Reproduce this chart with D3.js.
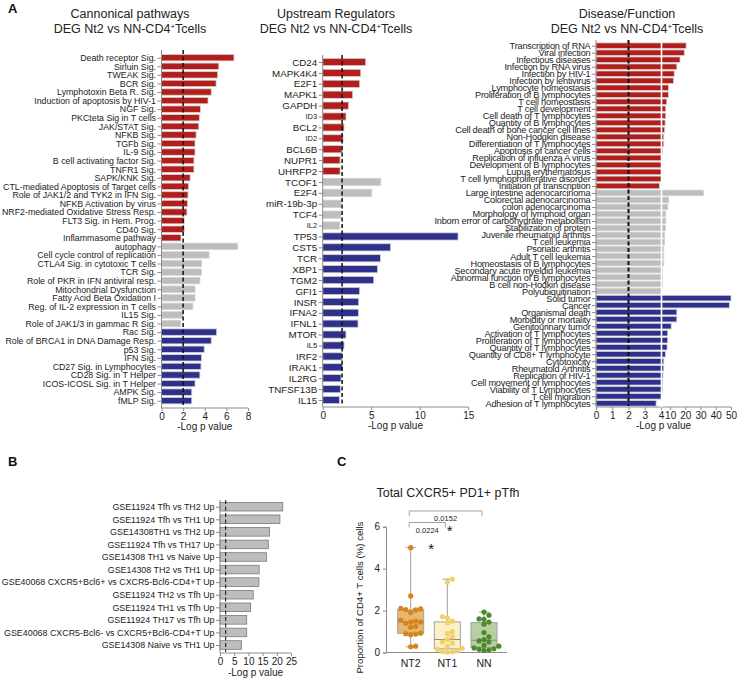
<!DOCTYPE html>
<html>
<head>
<meta charset="utf-8">
<script src="https://cdn.jsdelivr.net/npm/d3@7"></script>
<style>
body{margin:0;background:#fff}
svg{display:block;font-family:"Liberation Sans",Arial,sans-serif}
</style>
</head>
<body>
<script>
// ---- panel A, cannonical pathways
const cpUp = ["Death receptor Sig.","Sirluin Sig.","TWEAK Sig.","BCR Sig.","Lymphotoxin Beta R. Sig.","Induction of apoptosis by HIV-1","NGF Sig.","PKCteta Sig in T cells","JAK/STAT Sig.","NFKB Sig.","TGFb Sig.","IL-9 Sig.","B cell activating factor Sig.","TNFR1 Sig.","SAPK/KNK Sig.","CTL-mediated Apoptosis of Target cells","Role of JAK1/2 and TYK2 in IFN Sig.","NFKB Activation by virus","NRF2-mediated Oxidative Stress Resp.","FLT3 Sig. in Hem. Prog.","CD40 Sig.","Inflammasome pathway"];
const cpUpVals = [6.7,5.3,5.2,5.05,4.6,4.3,3.6,3.5,3.45,3.2,3.1,3.1,3.0,3.0,2.65,2.5,2.45,2.4,2.35,2.1,2.1,1.8];
const cpMid = ["autophagy","Cell cycle control of replication","CTLA4 Sig. in cytotoxic T cells","TCR Sig.","Role of PKR in IFN antiviral resp.","Mitochondrial Dysfunction","Fatty Acid Beta Oxidation I","Reg. of IL-2 expression in T cells","IL15 Sig.","Role of JAK1/3 in gammac R Sig."];
const cpMidVals = [7.05,4.4,3.7,3.7,3.55,3.1,3.1,2.9,2.0,1.75];
const cpDown = ["Rac Sig.","Role of BRCA1 in DNA Damage Resp.","p53 Sig.","IFN Sig.","CD27 Sig. in Lymphocytes","CD28 Sig. in T Helper","ICOS-ICOSL Sig. in T Helper","AMPK Sig.","fMLP Sig."];
const cpDownVals = [5.1,4.6,3.95,3.7,3.65,3.55,3.1,2.8,2.8];
const cpTicks = [0,2,4,6,8];

// ---- panel A, upstream regulators
const urUp = ["CD24","MAPK4K4","E2F1","MAPK1","GAPDH","ID3","BCL2","ID2","BCL6B","NUPR1","UHRFP2"];
const urUpVals = [4.43,3.92,3.81,3.09,2.65,2.4,2.2,2.1,2.0,1.79,1.79];
const urMid = ["TCOF1","E2F4","miR-19b-3p","TCF4","IL2"];
const urMidVals = [5.98,5.05,1.92,1.89,1.75];
const urDown = ["TP53","CST5","TCR","XBP1","TGM2","GFI1","INSR","IFNA2","IFNL1","MTOR","IL5","IRF2","IRAK1","IL2RG","TNFSF13B","IL15"];
const urDownVals = [13.95,7.0,5.95,5.64,5.26,3.81,3.71,3.68,3.64,2.4,2.2,2.0,2.03,1.89,1.82,1.72];
const urSmall = ["ID3","ID2","IL2","IL5"];
const urTicks = [0,5,10,15];

// ---- panel A, disease / function
const dfUp = ["Transcription of RNA","Viral infection","Infectious diseases","Infection by RNA virus","Infection by HIV-1","Infection by lentivirus","Lymphocyte homeostasis","Proliferation of B lymphocytes","T cell homeostasis","T cell development","Cell death of T lymphocytes","Quantity of B lymphocytes","Cell death of bone cancer cell lines","Non-Hodgkin disease","Differentiation of T lymphocytes","Apoptosis of cancer cells","Replication of influenza A virus","Development of B lymphocytes","Lupus erythematosus","T cell lymphoproliferative disorder","Initiation of transcription"];
const dfUpVals = [20.5,19.3,16.5,14.4,12.7,12.2,8.9,8.9,7.8,7.1,7.1,6.7,6.4,5.8,5.8,5.1,4.5,4.5,4.4,4.5,3.9];
const dfMid = ["Large intestine adenocarcinoma","Colorectal adenocarcinoma","colon adenocarcinoma","Morphology of lymphoid organ","Inborn error of carbohydrate metabolism","Stabilization of protein","Juvenile rheumatoid arthritis","T cell leukemia","Psoriatic arthritis","Adult T cell leukemia","Homeostasis of B lymphocytes","Secondary acute myeldid leukemia","Abnormal function of B lymphocytes","B cell non-Hodkin disease","Polyubiquitination"];
const dfMidVals = [31.8,9.1,8.4,7.1,7.1,6.9,6.4,6.4,5.8,5.8,5.8,5.1,5.1,5.1,4.5];
const dfDown = ["Solid tumor","Cancer","Organismal death","Morbidity or mortality","Genitourinary tumor","Activation of T lymphocytes","Proliferation of T lymphocytes","Quantity of T lymphocytes","Quantity of CD8+ T lymphocyte","Cytotoxicity","Rheumatoid Arthritis","Replication of HIV-1","Cell movement of lymphocytes","Viability of T Lymphocytes","T cell migration","Adhesion of T lymphocytes"];
const dfDownVals = [50,48.9,14.4,14.4,10.7,8.4,8.4,8.0,6.9,5.8,5.8,5.3,5.1,5.1,4.5,3.7];
const dfTicks = [0,1,2,3,4,10,20,30,40,50];

// ---- panel B
const gseLabels = ["GSE11924 Tfh vs TH2 Up","GSE11924 Tfh vs TH1 Up","GSE14308TH1 vs TH2 Up","GSE11924 Tfh vs TH17 Up","GSE14308 TH1 vs Naive Up","GSE14308 TH2 vs TH1 Up","GSE40068 CXCR5+Bcl6+ vs CXCR5-Bcl6-CD4+T Up","GSE11924 TH2 vs Tfh Up","GSE11924 TH1 vs Tfh Up","GSE11924 TH17 vs Tfh Up","GSE40068 CXCR5-Bcl6- vs CXCR5+Bcl6-CD4+T Up","GSE14308 Naive vs TH1 Up"];
const gseVals = [22.1,21.1,17.4,17.0,16.4,13.8,13.7,11.7,10.8,9.4,9.4,7.6];
const gseTicks = [0,5,10,15,20,25];

// ---- panel C
const groupsC = ["NT2","NT1","NN"];
const nt2 = [0.27,0.3,0.85,0.88,0.9,0.92,1.2,1.25,1.4,1.45,1.45,1.5,1.55,1.9,2.03,2.05,2.08,2.1,2.7,5.0];
const nt1 = [0.02,0.03,0.05,0.08,0.15,0.2,0.3,0.45,0.5,0.62,0.75,0.9,1.0,1.42,1.5,1.65,1.7,3.35,3.5];
const nn = [0.1,0.12,0.15,0.18,0.22,0.3,0.35,0.5,0.55,0.62,0.75,0.95,1.35,1.45,1.58,1.6,1.78,1.93];
const cTicks = [0,2,4,6];
const pvals = [["NT2","NN","0.0152"],["NT2","NT1","0.0224"]];

const RED = "#b31e1c", GREY = "#bdbdbd", BLUE = "#2f308c";
const AX = "#8c8c8c", TXT = "#222";

const svg = d3.select("body").append("svg").attr("width", 737).attr("height", 684);

function barPanel(o) {
  const g = svg.append("g");
  const rows = [];
  o.groups.forEach(gr => gr.labels.forEach((l, i) => rows.push({label: l, value: gr.values[i], color: gr.color})));
  const y = d3.scalePoint().domain(rows.map(d => d.label)).range(o.yRange);
  const x = o.x;
  const x0 = x(0);

  g.selectAll("rect").data(rows).join("rect")
    .attr("x", x0).attr("y", d => y(d.label) - o.barH / 2)
    .attr("width", d => x(d.value) - x0).attr("height", o.barH)
    .attr("fill", d => d.color).attr("stroke", o.stroke).attr("stroke-width", 0.8);

  if (o.breakAt != null) {
    g.append("line").attr("x1", x(o.breakAt) + 0.5).attr("x2", x(o.breakAt) + 0.5)
      .attr("y1", o.axisTop).attr("y2", o.axisBottom)
      .attr("stroke", "#fff").attr("stroke-width", 1.6);
  }

  g.append("line").attr("x1", x(o.dash)).attr("x2", x(o.dash))
    .attr("y1", o.axisTop).attr("y2", o.axisBottom - 1)
    .attr("stroke", "#111").attr("stroke-width", o.dashW || 1.5).attr("stroke-dasharray", "4,2.5");

  const ya = g.append("g").attr("transform", `translate(${x0},0)`)
    .call(d3.axisLeft(y).tickSize(o.tick).tickPadding(1.5));
  ya.select(".domain").remove();
  ya.selectAll(".tick line").attr("stroke", AX);
  ya.selectAll(".tick text").attr("fill", TXT)
    .style("font-size", d => (o.small && o.small.includes(d)) ? o.smallSize + "px" : o.fontSize + "px")
    .style("letter-spacing", o.spacing || "0px");
  g.append("line").attr("x1", x0).attr("x2", x0).attr("y1", o.axisTop).attr("y2", o.axisBottom)
    .attr("stroke", AX);

  const xa = g.append("g").attr("transform", `translate(0,${o.axisBottom})`)
    .call(d3.axisBottom(x).tickValues(o.ticks).tickSize(3).tickPadding(2));
  xa.select(".domain").remove();
  xa.selectAll(".tick line").attr("stroke", AX);
  xa.selectAll(".tick text").attr("fill", TXT).style("font-size", o.tickFont + "px");
  const xMax = x(o.ticks[o.ticks.length - 1]);
  if (o.breakAt != null) {
    g.append("line").attr("x1", x0).attr("x2", x(o.breakAt) - 0.5).attr("y1", o.axisBottom).attr("y2", o.axisBottom).attr("stroke", AX);
    g.append("line").attr("x1", x(o.breakAt) + 1.5).attr("x2", xMax).attr("y1", o.axisBottom).attr("y2", o.axisBottom).attr("stroke", AX);
  } else {
    g.append("line").attr("x1", x0).attr("x2", xMax).attr("y1", o.axisBottom).attr("y2", o.axisBottom).attr("stroke", AX);
  }
  g.append("text").attr("x", (x0 + xMax) / 2).attr("y", o.axisBottom + o.titleGap)
    .attr("text-anchor", "middle").attr("fill", TXT).style("font-size", o.tickFont + "px")
    .text("-Log p value");

  if (o.title) {
    const t = g.append("text").attr("text-anchor", "middle").attr("fill", TXT).style("font-size", "12.5px");
    t.append("tspan").attr("x", o.titleX).attr("y", 18).text(o.title);
    const t2 = g.append("text").attr("text-anchor", "middle").attr("fill", TXT).style("font-size", "12.5px")
      .attr("x", o.titleX).attr("y", 33);
    t2.append("tspan").text("DEG Nt2 vs NN-CD4");
    t2.append("tspan").attr("dy", -4).style("font-size", "8px").text("+");
    t2.append("tspan").attr("dy", 4).text("Tcells");
  }
}

barPanel({
  groups: [{labels: cpUp, values: cpUpVals, color: RED}, {labels: cpMid, values: cpMidVals, color: GREY}, {labels: cpDown, values: cpDownVals, color: BLUE}],
  x: d3.scaleLinear().domain([0, 8]).range([161.5, 248]),
  yRange: [57.7, 400.7], barH: 6.4, axisTop: 50, axisBottom: 408, tick: 4,
  ticks: cpTicks, dash: 2, stroke: "#d2d2d2", fontSize: 8.8, tickFont: 10, titleGap: 22,
  title: "Cannonical pathways", titleX: 130
});

barPanel({
  groups: [{labels: urUp, values: urUpVals, color: RED}, {labels: urMid, values: urMidVals, color: GREY}, {labels: urDown, values: urDownVals, color: BLUE}],
  x: d3.scaleLinear().domain([0, 15]).range([322.7, 468.2]),
  yRange: [62, 400], barH: 7.2, axisTop: 55, axisBottom: 407, tick: 4,
  ticks: urTicks, dash: 2, stroke: "#cfcfcf", fontSize: 9.8, small: urSmall, smallSize: 7.5, tickFont: 10, titleGap: 22,
  title: "Upstream Regulators", titleX: 336
});

barPanel({
  groups: [{labels: dfUp, values: dfUpVals, color: RED}, {labels: dfMid, values: dfMidVals, color: GREY}, {labels: dfDown, values: dfDownVals, color: BLUE}],
  x: d3.scaleLinear().domain([0, 4, 50]).range([596, 661, 731]),
  yRange: [45.7, 403.3], barH: 5.6, axisTop: 40, axisBottom: 407, tick: 4,
  ticks: dfTicks, dash: 2, dashW: 2, stroke: "#d2d2d2", fontSize: 9.2, spacing: "-0.2px", tickFont: 10, titleGap: 22, breakAt: 4,
  title: "Disease/Function", titleX: 627
});

barPanel({
  groups: [{labels: gseLabels, values: gseVals, color: GREY}],
  x: d3.scaleLinear().domain([0, 25]).range([220, 291]),
  yRange: [506.7, 645], barH: 8.6, axisTop: 500, axisBottom: 653, tick: 4,
  ticks: gseTicks, dash: 2, dashW: 1, stroke: "#7a7a7a", fontSize: 8.9, tickFont: 10, titleGap: 23
});

// panel letters
[["A", 8, 13], ["B", 8, 466], ["C", 337, 466]].forEach(([t, x, y]) =>
  svg.append("text").attr("x", x).attr("y", y).style("font-size", "13px").style("font-weight", "bold").attr("fill", "#111").text(t));

// ---- panel C box plot
const cg = svg.append("g");
const yC = d3.scaleLinear().domain([0, 6]).range([652.5, 526.7]);
const xC = d3.scalePoint().domain(groupsC).range([410.7, 484]);
const dataC = {NT2: nt2, NT1: nt1, NN: nn};
const fills = {NT2: "#e8b871", NT1: "#fbf0c9", NN: "#b9cfa3"};
const dots = {NT2: "#d5861b", NT1: "#f1d267", NN: "#4c8a2c"};
const boxW = 26, r = 2.6;

cg.append("text").attr("x", 448).attr("y", 497).attr("text-anchor", "middle")
  .style("font-size", "12.5px").attr("fill", TXT).text("Total CXCR5+ PD1+ pTfh");

const yaC = cg.append("g").attr("transform", "translate(386,0)")
  .call(d3.axisLeft(yC).tickValues(cTicks).tickFormat(d3.format("d")).tickSize(3).tickPadding(3));
yaC.select(".domain").attr("stroke", AX);
yaC.selectAll(".tick line").attr("stroke", AX);
yaC.selectAll(".tick text").attr("fill", TXT).style("font-size", "10px");
cg.append("line").attr("x1", 386).attr("x2", 507).attr("y1", yC(0)).attr("y2", yC(0)).attr("stroke", AX);
groupsC.forEach(k => cg.append("text").attr("x", xC(k)).attr("y", 667).attr("text-anchor", "middle")
  .style("font-size", "10.5px").attr("fill", TXT).text(k));
cg.append("text").attr("transform", `translate(363,${(yC(0) + yC(6)) / 2 + 8}) rotate(-90)`)
  .attr("text-anchor", "middle").style("font-size", "9.6px").attr("fill", TXT)
  .text("Proportion of CD4+ T cells (%) cells");

groupsC.forEach(k => {
  const v = dataC[k].slice().sort(d3.ascending);
  const q1 = d3.quantile(v, 0.25), med = d3.quantile(v, 0.5), q3 = d3.quantile(v, 0.75);
  const lo = v[0], hi = v[v.length - 1];
  const cx = xC(k);
  cg.append("line").attr("x1", cx).attr("x2", cx).attr("y1", yC(lo)).attr("y2", yC(hi)).attr("stroke", "#a0a0a0");
  [lo, hi].forEach(w => cg.append("line").attr("x1", cx - 5).attr("x2", cx + 5).attr("y1", yC(w)).attr("y2", yC(w)).attr("stroke", "#a0a0a0"));
  cg.append("rect").attr("x", cx - boxW / 2).attr("y", yC(q3)).attr("width", boxW).attr("height", yC(q1) - yC(q3))
    .attr("fill", fills[k]).attr("stroke", "#a0a0a0");
  cg.append("line").attr("x1", cx - boxW / 2).attr("x2", cx + boxW / 2).attr("y1", yC(med)).attr("y2", yC(med)).attr("stroke", "#8a8a8a");
  // simple beeswarm, points allowed to touch a little
  const placed = [];
  v.forEach(val => {
    const py = yC(val);
    let off = 0;
    for (let s = 0; s < 20; s++) {
      const cand = s === 0 ? 0 : (s % 2 ? 1 : -1) * Math.ceil(s / 2) * r * 1.9;
      if (placed.every(p => Math.hypot(p[0] - cand, p[1] - py) >= r * 1.7)) { off = cand; break; }
    }
    placed.push([off, py]);
  });
  cg.selectAll(null).data(placed).join("circle")
    .attr("cx", d => cx + d[0]).attr("cy", d => d[1]).attr("r", r).attr("fill", dots[k]);
});

// significance brackets
const bracketY = [6.75, 6.2];
pvals.forEach(([a, b, p], i) => {
  const by = yC(bracketY[i]);
  const xa = xC(a) - 1.5, xb = xC(b) - 2;
  cg.append("path").attr("d", `M${xa},${by + 5}V${by}H${xb}V${by + 5}`).attr("fill", "none").attr("stroke", "#a0a0a0");
  cg.append("text").attr("x", (xa + xb) / 2).attr("y", by + 10).attr("text-anchor", "middle")
    .style("font-size", "7.5px").attr("fill", TXT).text(p);
  cg.append("text").attr("x", (xa + xb) / 2 + 4).attr("y", by + (i === 0 ? 25 : 31)).attr("text-anchor", "middle")
    .style("font-size", "15px").attr("fill", "#111").text("*");
});
</script>
</body>
</html>
